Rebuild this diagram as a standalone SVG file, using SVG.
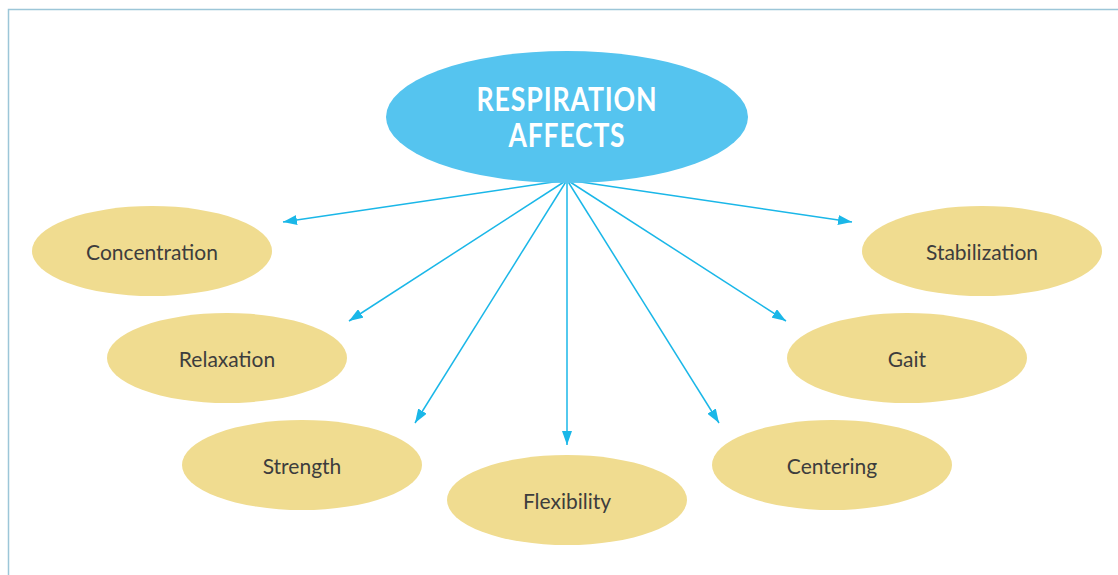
<svg xmlns="http://www.w3.org/2000/svg" width="1118" height="575" viewBox="0 0 1118 575">
<defs>
<marker id="ah" markerWidth="14" markerHeight="10" refX="14" refY="5" orient="auto" markerUnits="userSpaceOnUse">
<path d="M0,0 L14,5 L0,10 Z" fill="#1ab7e8"/>
</marker>
<style>
.node{fill:#f0dc90}
.lbl{font-family:"Lato","Open Sans",sans-serif;font-size:21px;fill:#3d3d3d;text-anchor:middle}
.title{font-family:"Lato","Open Sans",sans-serif;font-size:32px;font-weight:bold;fill:#ffffff;text-anchor:middle;letter-spacing:1px}
.conn{stroke:#1ab7e8;stroke-width:1.5;fill:none;marker-end:url(#ah)}
</style>
</defs>
<rect width="1118" height="575" fill="#ffffff"/>
<path d="M8.5,575 L8.5,9.5 L1118,9.5" fill="none" stroke="#9cc6d8" stroke-width="1.5"/>
<g id="connectors">
<line class="conn" x1="567" y1="180" x2="283" y2="222"/>
<line class="conn" x1="567" y1="180" x2="349" y2="321"/>
<line class="conn" x1="567" y1="180" x2="415" y2="423"/>
<line class="conn" x1="567" y1="180" x2="567" y2="445"/>
<line class="conn" x1="567" y1="180" x2="719" y2="423"/>
<line class="conn" x1="567" y1="180" x2="786" y2="321"/>
<line class="conn" x1="567" y1="180" x2="852" y2="222"/>
</g>
<g id="respiration">
<ellipse cx="567" cy="117" rx="181" ry="66" fill="#55c4ef"/>
<text class="title" x="567" y="111" textLength="181" lengthAdjust="spacingAndGlyphs">RESPIRATION</text>
<text class="title" x="567" y="147" textLength="117" lengthAdjust="spacingAndGlyphs">AFFECTS</text>
</g>
<g id="concentration"><ellipse class="node" cx="152" cy="251" rx="120" ry="45"/><text class="lbl" x="152" y="260">Concentration</text></g>
<g id="relaxation"><ellipse class="node" cx="227" cy="358" rx="120" ry="45"/><text class="lbl" x="227" y="367">Relaxation</text></g>
<g id="strength"><ellipse class="node" cx="302" cy="465" rx="120" ry="45"/><text class="lbl" x="302" y="474">Strength</text></g>
<g id="flexibility"><ellipse class="node" cx="567" cy="500" rx="120" ry="45"/><text class="lbl" x="567" y="509">Flexibility</text></g>
<g id="centering"><ellipse class="node" cx="832" cy="465" rx="120" ry="45"/><text class="lbl" x="832" y="474">Centering</text></g>
<g id="gait"><ellipse class="node" cx="907" cy="358" rx="120" ry="45"/><text class="lbl" x="907" y="367">Gait</text></g>
<g id="stabilization"><ellipse class="node" cx="982" cy="251" rx="120" ry="45"/><text class="lbl" x="982" y="260">Stabilization</text></g>
</svg>
